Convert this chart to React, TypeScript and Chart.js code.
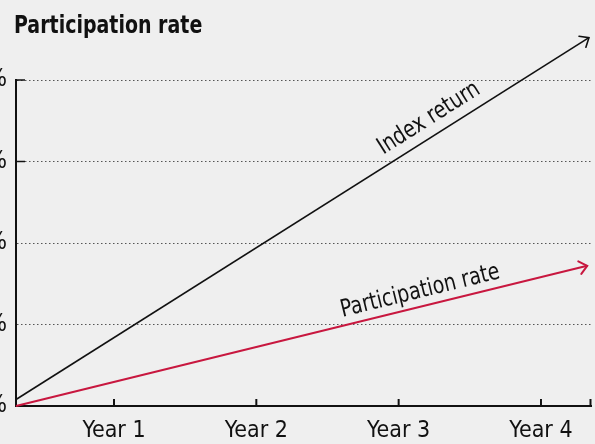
import { useEffect, useRef } from 'react';
import { Chart, registerables } from 'chart.js';

Chart.register(...registerables);

// ---- data ----
const xRange = [0.3115, 4.3515];
const yearTicks = [1, 2, 3, 4];
const yearLabels = ['Year 1', 'Year 2', 'Year 3', 'Year 4'];
const yTicks = [0, 25, 50, 75, 100];
const yTickLabels = ['0%', '25%', '50%', '75%', '100%'];
const yInnerTicks = [75, 100];
const indexX = [0.3115, 4.337];
const indexReturn = [2, 113];
const partX = [0.3115, 4.325];
const participationRate = [0, 43];
const seriesNames = ['Index return', 'Participation rate'];
const title = 'Participation rate';

const FONT = "'Liberation Sans Narrow', 'DejaVu Sans Condensed', 'Arial Narrow', sans-serif";
const BG = '#efefef';
const RED = '#c8173f';

const bgPlugin = {
  id: 'bg',
  beforeDraw(chart: any) {
    const { ctx, width, height } = chart;
    ctx.save();
    ctx.fillStyle = BG;
    ctx.fillRect(0, 0, width, height);
    ctx.restore();
  },
};

const decoPlugin = {
  id: 'deco',
  afterDraw(chart: any) {
    const { ctx, chartArea } = chart;
    const xs = chart.scales.x;
    const ys = chart.scales.y;
    ctx.save();
    // title
    ctx.save();
    ctx.fillStyle = '#111';
    ctx.font = `bold 24px ${FONT}`;
    ctx.textAlign = 'left';
    ctx.textBaseline = 'alphabetic';
    ctx.translate(14, 33);
    ctx.scale(0.88, 1);
    ctx.fillText(title, 0, 0);
    ctx.restore();
    // inner ticks x
    ctx.strokeStyle = '#111';
    ctx.lineWidth = 2;
    const xt = yearTicks.map((v) => xs.getPixelForValue(v)).concat([chartArea.right - 0.5]);
    xt.forEach((px: number) => {
      ctx.beginPath();
      ctx.moveTo(px, chartArea.bottom);
      ctx.lineTo(px, chartArea.bottom - 7);
      ctx.stroke();
    });
    // inner ticks y
    ctx.lineWidth = 1.5;
    yInnerTicks.forEach((v) => {
      const py = ys.getPixelForValue(v);
      ctx.beginPath();
      ctx.moveTo(chartArea.left, py);
      ctx.lineTo(chartArea.left + 9, py);
      ctx.stroke();
    });
    ctx.restore();
  },
};

const labelPlugin = {
  id: 'lineLabels',
  afterDatasetsDraw(chart: any, _args: any, opts: any) {
    const { ctx } = chart;
    const xs = chart.scales.x;
    chart.data.datasets.forEach((ds: any, i: number) => {
      const pts = chart.getDatasetMeta(i).data;
      const p0 = pts[0];
      const p1 = pts[pts.length - 1];
      const ang = Math.atan2(p1.y - p0.y, p1.x - p0.x);
      // arrowhead
      ctx.save();
      ctx.strokeStyle = ds.borderColor;
      ctx.lineWidth = ds.borderWidth;
      ctx.lineCap = 'round';
      ctx.lineJoin = 'miter';
      ctx.translate(p1.x, p1.y);
      ctx.rotate(ang);
      const a = (40 * Math.PI) / 180;
      const L = 10;
      ctx.beginPath();
      ctx.moveTo(-L * Math.cos(a), -L * Math.sin(a));
      ctx.lineTo(0, 0);
      ctx.lineTo(-L * Math.cos(a), L * Math.sin(a));
      ctx.stroke();
      ctx.restore();
      // label
      const pos = opts.positions[i];
      const lx = xs.getPixelForValue(pos.at);
      const t = (lx - p0.x) / (p1.x - p0.x);
      const ly = p0.y + t * (p1.y - p0.y);
      ctx.save();
      ctx.translate(lx, ly);
      ctx.rotate(ang);
      ctx.translate(0, pos.offset);
      ctx.scale(0.88, 1);
      ctx.font = `24px ${FONT}`;
      ctx.fillStyle = '#111';
      ctx.textAlign = 'center';
      ctx.textBaseline = 'middle';
      ctx.fillText(ds.label, 0, 0);
      ctx.restore();
    });
  },
};

export default function App() {
  const ref = useRef<HTMLCanvasElement | null>(null);
  useEffect(() => {
    document.body.style.margin = '0';
    document.body.style.background = BG;
    const chart = new Chart(ref.current as HTMLCanvasElement, {
      type: 'line',
      data: {
        datasets: [
          {
            label: seriesNames[0],
            data: indexX.map((x, i) => ({ x, y: indexReturn[i] })),
            borderColor: '#111',
            borderWidth: 1.6,
            pointRadius: 0,
            tension: 0,
            clip: false as any,
          },
          {
            label: seriesNames[1],
            data: partX.map((x, i) => ({ x, y: participationRate[i] })),
            borderColor: RED,
            borderWidth: 2,
            pointRadius: 0,
            tension: 0,
            clip: false as any,
          },
        ],
      },
      options: {
        animation: false,
        responsive: false,
        devicePixelRatio: 1,
        layout: { padding: { top: 80, right: 4, left: 0, bottom: 0 } },
        plugins: {
          legend: { display: false },
          tooltip: { enabled: false },
          lineLabels: {
            positions: [
              { at: 3.277, offset: -17 },
              { at: 3.176, offset: -15 },
            ],
          },
        } as any,
        scales: {
          x: {
            type: 'linear',
            min: xRange[0],
            max: xRange[1],
            afterBuildTicks: (s: any) => {
              s.ticks = yearTicks.map((v) => ({ value: v }));
            },
            afterFit: (s: any) => {
              s.height = 38;
            },
            grid: { display: false, drawTicks: false },
            border: { display: true, color: '#111', width: 2 },
            ticks: {
              padding: 11,
              color: '#111',
              font: { family: FONT, size: 23 },
              maxRotation: 0,
              autoSkip: false,
              callback: (v: any) => {
                const i = yearTicks.indexOf(Number(v));
                return i >= 0 ? yearLabels[i] : '';
              },
            },
          },
          y: {
            type: 'linear',
            min: 0,
            max: 100,
            afterBuildTicks: (s: any) => {
              s.ticks = yTicks.map((v) => ({ value: v }));
            },
            afterFit: (s: any) => {
              s.width = 16;
            },
            grid: {
              color: (c: any) => (c.tick && c.tick.value === 0 ? 'rgba(0,0,0,0)' : '#555'),
              lineWidth: 1,
              drawTicks: false,
            },
            border: { display: true, color: '#111', width: 2, dash: [1.5, 2.5] as any },
            ticks: {
              padding: 9,
              color: '#111',
              font: { family: FONT, size: 24 },
              callback: (v: any) => {
                const i = yTicks.indexOf(Number(v));
                return i >= 0 ? yTickLabels[i] : '';
              },
            },
          },
        },
      },
      plugins: [bgPlugin, decoPlugin, labelPlugin],
    });
    return () => chart.destroy();
  }, []);
  return (
    <div style={{ width: 595, height: 444, background: BG }}>
      <canvas ref={ref} width={595} height={444} style={{ display: 'block' }} />
    </div>
  );
}
